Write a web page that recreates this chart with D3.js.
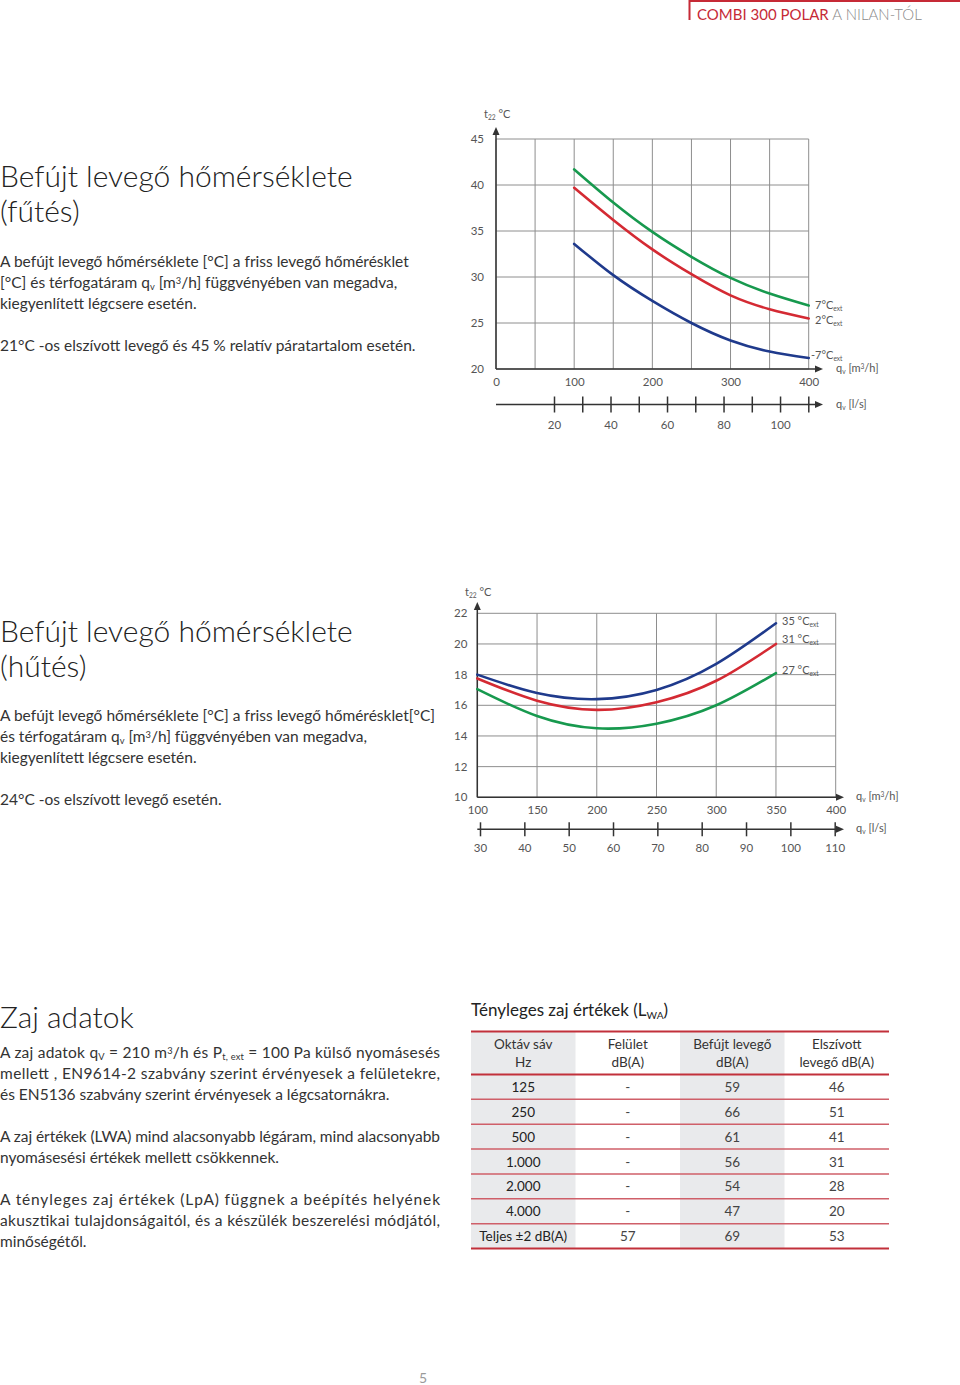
<!DOCTYPE html>
<html>
<head>
<meta charset="utf-8">
<script src="https://cdn.jsdelivr.net/npm/d3@7"></script>
<style>
  body { margin: 0; background: #fff; }
  svg { display: block; font-family: Lato, "Open Sans", sans-serif; }
</style>
</head>
<body>
<svg id="page" width="960" height="1385"></svg>
<script>
// ---- data ----
// heating chart: supply temperature vs airflow (m3/h)
var heatQ = [100, 150, 200, 250, 300, 350, 400];
var heat7 = [41.7, 38.1, 34.9, 32.2, 29.9, 28.2, 26.9];
var heat2 = [39.7, 36.2, 33.0, 30.3, 28.0, 26.5, 25.5];
var heatM7 = [33.6, 30.2, 27.4, 25.0, 23.1, 21.9, 21.2];
var heatXTicks = [0, 50, 100, 150, 200, 250, 300, 350, 400];
var heatXLabels = [0, 100, 200, 300, 400];
var heatYTicks = [20, 25, 30, 35, 40, 45];
var heatLsTicks = [20, 30, 40, 50, 60, 70, 80, 90, 100, 110];
var heatLsLabels = [20, 40, 60, 80, 100];

// cooling chart
var coolQ = [100, 150, 200, 250, 300, 350];
var cool35 = [18.0, 16.8, 16.4, 17.0, 18.7, 21.35];
var cool31 = [17.75, 16.3, 15.7, 16.2, 17.6, 20.0];
var cool27 = [17.05, 15.3, 14.5, 14.8, 16.0, 18.1];
var coolXTicks = [100, 150, 200, 250, 300, 350, 400];
var coolYTicks = [10, 12, 14, 16, 18, 20, 22];
var coolLsTicks = [30, 40, 50, 60, 70, 80, 90, 100, 110];

// noise table
var tableHead = [["Oktáv sáv", "Hz"], ["Felület", "dB(A)"], ["Befújt levegő", "dB(A)"], ["Elszívott", "levegő dB(A)"]];
var bands = ["125", "250", "500", "1.000", "2.000", "4.000", "Teljes ±2 dB(A)"];
var surface = ["-", "-", "-", "-", "-", "-", "57"];
var supplyAir = ["59", "66", "61", "56", "54", "47", "69"];
var extractAir = ["46", "51", "41", "31", "28", "20", "53"];

var GREEN = "#17994e", RED = "#d42a33", BLUE = "#1f3a8c";
var TXT = "#333", GRID = "#8e8e8e", AX = "#333", LBL = "#555";

var svg = d3.select("#page");

// text with sub / sup parts
function rich(x, y, parts, o) {
  var t = svg.append("text").attr("x", x).attr("y", y)
    .attr("font-size", o.size).attr("fill", o.fill || TXT);
  if (o.weight) t.attr("font-weight", o.weight);
  if (o.anchor) t.attr("text-anchor", o.anchor);
  if (o.width) t.attr("textLength", o.width).attr("lengthAdjust", "spacing");
  parts.forEach(function(p) {
    var s = typeof p === "string" ? p : p[0];
    var k = typeof p === "string" ? "" : p[1];
    var ts = t.append("tspan").text(s);
    if (k === "sub") ts.attr("baseline-shift", "-25%").attr("font-size", o.size * 0.6);
    if (k === "sup") ts.attr("baseline-shift", "40%").attr("font-size", o.size * 0.6);
  });
  return t;
}

// ---- header ----
svg.append("path").attr("d", "M689.5,20V1H960").attr("fill", "none")
  .attr("stroke", "#c62a36").attr("stroke-width", 2);
var hd = svg.append("text").attr("x", 697).attr("y", 20).attr("font-size", 15);
hd.append("tspan").text("COMBI 300 POLAR").attr("fill", "#c62a36");
hd.append("tspan").text(" A NILAN-TÓL").attr("fill", "#8a8a8a").attr("font-weight", 300);

// ---- left-hand texts ----
var T = { size: 30, fill: "#222", weight: 300 };
var P = { size: 15.5 };
rich(0, 187, ["Befújt levegő hőmérséklete"], T);
rich(0, 222, ["(fűtés)"], T);
rich(0, 267, ["A befújt levegő hőmérséklete [°C] a friss levegő hőmérésklet"], P);
rich(0, 288, ["[°C] és térfogatáram q", ["v", "sub"], " [m", ["3", "sup"], "/h] függvényében van megadva,"], P);
rich(0, 309, ["kiegyenlített légcsere esetén."], P);
rich(0, 351, ["21°C -os elszívott levegő és 45 % relatív páratartalom esetén."], P);

rich(0, 642, ["Befújt levegő hőmérséklete"], T);
rich(0, 677, ["(hűtés)"], T);
rich(0, 721, ["A befújt levegő hőmérséklete [°C] a friss levegő hőmérésklet[°C]"], P);
rich(0, 742, ["és térfogatáram q", ["v", "sub"], " [m", ["3", "sup"], "/h] függvényében van megadva,"], P);
rich(0, 763, ["kiegyenlített légcsere esetén."], P);
rich(0, 805, ["24°C -os elszívott levegő esetén."], P);

rich(0, 1028, ["Zaj adatok"], T);
var PJ = { size: 15.5, width: 440 };
rich(0, 1058, ["A zaj adatok q", ["V", "sub"], " = 210 m", ["3", "sup"], "/h és P", ["t, ext", "sub"], " = 100 Pa külső nyomásesés"], PJ);
rich(0, 1079, ["mellett , EN9614-2 szabvány szerint érvényesek a felületekre,"], PJ);
rich(0, 1100, ["és EN5136 szabvány szerint érvényesek a légcsatornákra."], P);
rich(0, 1142, ["A zaj értékek (LWA) mind alacsonyabb légáram, mind alacsonyabb"], PJ);
rich(0, 1163, ["nyomásesési értékek mellett csökkennek."], P);
rich(0, 1205, ["A tényleges zaj értékek (LpA) függnek a beépítés helyének"], PJ);
rich(0, 1226, ["akusztikai tulajdonságaitól, és a készülék beszerelési módjától,"], PJ);
rich(0, 1247, ["minőségétől."], P);

// ---- charts ----
function arrowHead(g, x, y, dir) {
  var p = dir === "up" ? [[x, y], [x - 3.5, y + 8], [x + 3.5, y + 8]]
                       : [[x, y], [x - 8, y - 3.5], [x - 8, y + 3.5]];
  g.append("path").attr("d", "M" + p.join("L") + "Z").attr("fill", AX);
}

function drawChart(c) {
  var g = svg.append("g");
  var x = d3.scaleLinear(c.xDomain, c.xRange);
  var y = d3.scaleLinear(c.yDomain, c.yRange);
  var ls = d3.scaleLinear(c.lsDomain, c.lsRange);
  var x0 = c.xRange[0], x1 = c.xRange[1], y0 = c.yRange[0], y1 = c.yRange[1];

  // grid
  g.selectAll(".vg").data(c.xTicks).join("line")
    .attr("x1", function(d) { return x(d); }).attr("x2", function(d) { return x(d); })
    .attr("y1", y0).attr("y2", y1).attr("stroke", GRID).attr("stroke-width", 1);
  g.selectAll(".hg").data(c.yTicks).join("line")
    .attr("y1", function(d) { return y(d); }).attr("y2", function(d) { return y(d); })
    .attr("x1", x0).attr("x2", x1).attr("stroke", GRID).attr("stroke-width", 1);

  // main axes with arrows
  g.append("line").attr("x1", x0).attr("x2", x0).attr("y1", y0).attr("y2", c.yArrow + 4)
    .attr("stroke", AX).attr("stroke-width", 1.5);
  arrowHead(g, x0, c.yArrow, "up");
  g.append("line").attr("x1", x0).attr("x2", c.xArrow - 4).attr("y1", y0).attr("y2", y0)
    .attr("stroke", AX).attr("stroke-width", 1.5);
  arrowHead(g, c.xArrow, y0, "right");

  // tick labels through d3 axes
  var ya = d3.axisLeft(y).tickValues(c.yTicks).tickSize(0).tickPadding(c.yPad);
  g.append("g").attr("transform", "translate(" + x0 + ",0)").call(ya)
    .call(function(s) { s.select(".domain").remove(); });
  var xa = d3.axisBottom(x).tickValues(c.xLabels).tickSize(0).tickPadding(c.xPad);
  g.append("g").attr("transform", "translate(0," + y0 + ")").call(xa)
    .call(function(s) { s.select(".domain").remove(); });

  // secondary l/s axis
  g.append("line").attr("x1", x0).attr("x2", c.xArrow - 4).attr("y1", c.lsY).attr("y2", c.lsY)
    .attr("stroke", AX).attr("stroke-width", 1.5);
  arrowHead(g, c.xArrow, c.lsY, "right");
  var la = d3.axisBottom(ls).tickValues(c.lsTicks).tickSize(c.lsTick).tickPadding(c.lsPad)
    .tickFormat(function(d) { return c.lsLabels.indexOf(d) >= 0 ? d : ""; });
  g.append("g").attr("transform", "translate(0," + c.lsY + ")").call(la)
    .call(function(s) {
      s.select(".domain").remove();
      s.selectAll(".tick line").attr("y1", -c.lsTick).attr("stroke", AX).attr("stroke-width", 1.5);
    });

  g.selectAll(".tick text").attr("font-family", "Lato, 'Open Sans', sans-serif")
    .attr("font-size", 11.5).attr("fill", LBL);

  // curves
  var line = d3.line().curve(d3.curveNatural)
    .x(function(d) { return x(d[0]); }).y(function(d) { return y(d[1]); });
  c.series.forEach(function(s) {
    g.append("path").datum(c.q.map(function(q, i) { return [q, s.v[i]]; }))
      .attr("d", line).attr("fill", "none").attr("stroke", s.color)
      .attr("stroke-width", 2.6).attr("stroke-linecap", "round");
  });
}

drawChart({
  xDomain: [0, 400], xRange: [496, 808.7], yDomain: [20, 45], yRange: [369, 139],
  xTicks: heatXTicks, xLabels: heatXLabels, yTicks: heatYTicks,
  yArrow: 127, xArrow: 823, yPad: 12, xPad: 9,
  lsDomain: [20, 110], lsRange: [554, 808.3], lsY: 404.5, lsTicks: heatLsTicks,
  lsLabels: heatLsLabels, lsTick: 8, lsPad: 8,
  q: heatQ,
  series: [{ v: heat7, color: GREEN }, { v: heat2, color: RED }, { v: heatM7, color: BLUE }]
});

drawChart({
  xDomain: [100, 400], xRange: [477.3, 835.7], yDomain: [10, 22], yRange: [797.3, 613.3],
  xTicks: coolXTicks, xLabels: coolXTicks, yTicks: coolYTicks,
  yArrow: 602, xArrow: 844, yPad: 10, xPad: 9,
  lsDomain: [30, 110], lsRange: [480, 834.7], lsY: 829.3, lsTicks: coolLsTicks,
  lsLabels: coolLsTicks, lsTick: 7, lsPad: 8,
  q: coolQ,
  series: [{ v: cool35, color: BLUE }, { v: cool31, color: RED }, { v: cool27, color: GREEN }]
});

// chart annotations
var L = { size: 11, fill: LBL };
rich(484, 118, ["t", ["22", "sub"], " °C"], L);
rich(815, 309, ["7°C", ["ext", "sub"]], L);
rich(815, 324, ["2°C", ["ext", "sub"]], L);
rich(811, 359, ["-7°C", ["ext", "sub"]], L);
rich(836, 372, ["q", ["v", "sub"], " [m", ["3", "sup"], "/h]"], L);
rich(836, 408, ["q", ["v", "sub"], " [l/s]"], L);

rich(465, 596, ["t", ["22", "sub"], " °C"], L);
rich(782, 625, ["35 °C", ["ext", "sub"]], L);
rich(782, 643, ["31 °C", ["ext", "sub"]], L);
rich(782, 674, ["27 °C", ["ext", "sub"]], L);
rich(856, 800, ["q", ["v", "sub"], " [m", ["3", "sup"], "/h]"], L);
rich(856, 832, ["q", ["v", "sub"], " [l/s]"], L);

// ---- noise table ----
rich(471, 1016, ["Tényleges zaj értékek (L", ["WA", "sub"], ")"], { size: 17, fill: "#222" });

var colX = d3.scaleBand().domain(d3.range(4)).range([471, 889]);
var rowY = d3.scaleBand().domain(d3.range(bands.length)).range([1074.5, 1248.5]);
var tTop = 1031.5, hBot = 1074.5;
var tg = svg.append("g").attr("font-size", 13.5).attr("fill", TXT).attr("text-anchor", "middle");

tg.selectAll(".shade").data([0, 2]).join("rect")
  .attr("x", function(d) { return colX(d); }).attr("width", colX.bandwidth())
  .attr("y", tTop).attr("height", 1248.5 - tTop).attr("fill", "#e9eaec");

tableHead.forEach(function(h, i) {
  h.forEach(function(s, j) {
    tg.append("text").attr("x", colX(i) + colX.bandwidth() / 2).attr("y", 1049 + j * 18).text(s);
  });
});

var cols = [bands, surface, supplyAir, extractAir];
cols.forEach(function(col, i) {
  tg.selectAll(".c" + i).data(col).join("text")
    .attr("x", colX(i) + colX.bandwidth() / 2)
    .attr("y", function(d, r) { return rowY(r) + rowY.bandwidth() / 2 + 5; })
    .attr("fill", i === 0 ? "#222" : "#444")
    .text(function(d) { return d; });
});

tg.selectAll(".sep").data(d3.range(1, bands.length)).join("line")
  .attr("x1", 471).attr("x2", 889)
  .attr("y1", function(d) { return rowY(d); }).attr("y2", function(d) { return rowY(d); })
  .attr("stroke", "#cf5f69").attr("stroke-width", 1.5);
[tTop, hBot, 1248.5].forEach(function(yy) {
  tg.append("line").attr("x1", 471).attr("x2", 889).attr("y1", yy).attr("y2", yy)
    .attr("stroke", "#c2303b").attr("stroke-width", 2.2);
});

// page number
svg.append("text").attr("x", 423).attr("y", 1383).attr("font-size", 14)
  .attr("fill", "#9a9a9a").attr("text-anchor", "middle").text("5");
</script>
</body>
</html>
